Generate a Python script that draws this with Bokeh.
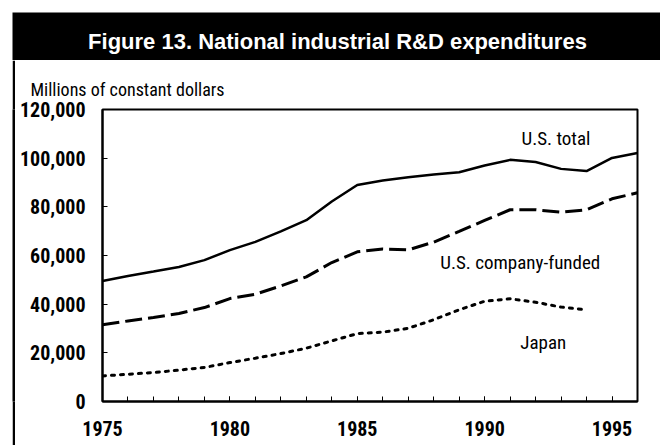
from bokeh.plotting import figure
from bokeh.layouts import column, row, Spacer
from bokeh.models import Range1d, FixedTicker, NumeralTickFormatter, Label
from bokeh.embed import file_html
from bokeh.resources import INLINE

title_text = "Figure 13. National industrial R&D expenditures"
y_axis_title = "Millions of constant dollars"

years = list(range(1975, 1997))
us_total = [49500, 51600, 53400, 55300, 58100, 62200, 65600, 69900, 74500, 82200, 89000,
            90800, 92200, 93300, 94200, 97000, 99300, 98400, 95600, 94700, 100100, 102100]
us_company = [31500, 33100, 34500, 36200, 38600, 42300, 44100, 47500, 51200, 57100, 61500,
              62700, 62300, 65500, 69900, 74400, 78800, 78800, 77800, 78800, 83300, 85800]
japan_years = list(range(1975, 1995))
japan = [10500, 11200, 11900, 12900, 14000, 16000, 17800, 19700, 21900, 24900, 27900,
         28500, 30100, 33600, 37700, 41200, 42200, 40800, 38800, 37700]

x_ticks = [1975, 1980, 1985, 1990, 1995]
y_ticks = [0, 20000, 40000, 60000, 80000, 100000, 120000]

series_labels = ["U.S. total", "U.S. company-funded", "Japan"]
label_x = [1992.8, 1991.4, 1992.3]
label_y = [108100, 57100, 24400]

NARROW = "Roboto Condensed"

# ---- header strip (pixel-coordinate figure) ----
head = figure(width=660, height=60, x_range=Range1d(0, 660), y_range=Range1d(60, 0),
              output_backend="svg", toolbar_location=None,
              x_axis_location=None, y_axis_location=None,
              min_border_left=0, min_border_right=0, min_border_top=0, min_border_bottom=0)
head.grid.visible = False
head.outline_line_color = None
head.background_fill_color = "white"
head.border_fill_color = "white"
head.quad(left=[12], right=[660], top=[12], bottom=[60], fill_color="black", line_color=None)
head.add_layout(Label(x=337, y=41, text=title_text, text_align="center", text_baseline="alphabetic",
                      text_color="white", text_font="Liberation Sans", text_font_style="bold",
                      text_font_size="22px"))

# ---- left frame edge: a 3px all-black strip ----
edge = figure(width=3, height=385, output_backend="svg", toolbar_location=None,
              x_axis_location=None, y_axis_location=None,
              min_border_left=0, min_border_right=0, min_border_top=0, min_border_bottom=0)
edge.grid.visible = False
edge.outline_line_color = None
edge.background_fill_color = "black"
edge.border_fill_color = "black"

# ---- main chart ----
p = figure(width=645, height=385, x_range=Range1d(1975, 1996), y_range=Range1d(0, 120000),
           output_backend="svg", toolbar_location=None,
           min_border_left=87, min_border_right=23, min_border_top=49, min_border_bottom=44)
p.grid.visible = False
p.outline_line_color = "black"
p.outline_line_width = 2
p.background_fill_color = "white"
p.border_fill_color = "white"

p.title.text = y_axis_title
p.title.align = "left"
p.title.offset = -72
p.title.standoff = 20
p.title.text_font = NARROW
p.title.text_font_size = "18px"
p.title.text_font_style = "normal"
p.title.text_color = "black"

p.xaxis.ticker = FixedTicker(ticks=x_ticks, minor_ticks=years)
p.xaxis.major_tick_in = 5
p.xaxis.major_tick_out = 0
p.xaxis.minor_tick_in = 5
p.xaxis.minor_tick_out = 0
p.xaxis.major_label_standoff = 19
p.xaxis.major_label_text_font = NARROW
p.xaxis.major_label_text_font_size = "20px"
p.xaxis.major_label_text_font_style = "bold"
p.xaxis.major_label_text_color = "black"
p.xaxis.axis_line_width = 2

p.yaxis.ticker = FixedTicker(ticks=y_ticks)
p.yaxis.formatter = NumeralTickFormatter(format="0,0")
p.yaxis.major_tick_in = 5
p.yaxis.major_tick_out = 0
p.yaxis.minor_tick_in = 0
p.yaxis.minor_tick_out = 0
p.yaxis.major_label_standoff = 17
p.yaxis.major_label_text_font = NARROW
p.yaxis.major_label_text_font_size = "20px"
p.yaxis.major_label_text_font_style = "bold"
p.yaxis.major_label_text_color = "black"
p.yaxis.axis_line_width = 2

p.line(years, us_total, line_color="black", line_width=2.5)
p.line(years, us_company, line_color="black", line_width=3, line_dash="17 6")
p.line(japan_years, japan, line_color="black", line_width=3, line_dash="3 6", line_cap="round")

for t, lx, ly in zip(series_labels, label_x, label_y):
    p.add_layout(Label(x=lx, y=ly, text=t, text_align="center", text_baseline="alphabetic",
                       text_font=NARROW, text_font_size="19px", text_color="black"))

layout = column(head, row(Spacer(width=12, height=385), edge, p, spacing=0), spacing=0)
open("out.html", "w").write(file_html(layout, INLINE))
